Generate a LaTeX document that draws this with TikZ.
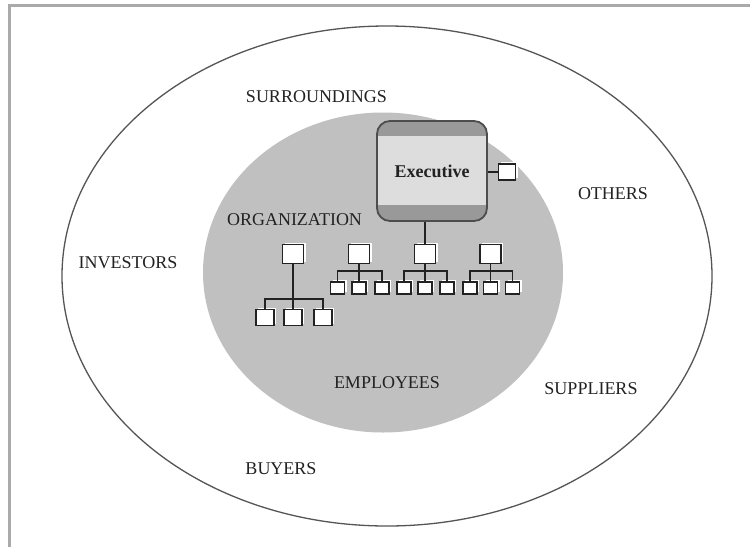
\documentclass[tikz,border=0pt]{standalone}
\usepackage{fontspec}
\setmainfont{Liberation Serif}
\usetikzlibrary{shadows}
\definecolor{framec}{HTML}{AAAAAA}
\definecolor{ringc}{HTML}{555555}
\definecolor{orgc}{HTML}{C0C0C0}
\definecolor{bandc}{HTML}{999999}
\definecolor{midc}{HTML}{DDDDDD}
\definecolor{execline}{HTML}{4D4D4D}
\definecolor{inkc}{HTML}{222222}
\tikzset{
  lab/.style={font=\fontsize{18}{20}\selectfont, text=inkc, inner sep=0pt},
  obox/.style={draw=inkc, fill=white, line width=1.8pt, inner sep=0pt,
    general shadow={fill=white, shadow xshift=2pt, shadow yshift=2pt}},
  bigbox/.style={obox, minimum width=21pt, minimum height=19pt},
  midbox/.style={obox, minimum width=18pt, minimum height=16pt},
  smallbox/.style={obox, minimum width=14pt, minimum height=12pt},
  link/.style={draw=inkc, line width=1.8pt},
}
\begin{document}
\begin{tikzpicture}[x=1pt,y=-1pt]
\useasboundingbox (0,0) rectangle (750,547);
\fill[white] (0,0) rectangle (750,547);
% frame
\draw[framec, line width=3pt] (9,547) -- (9,5) -- (750,5);
% surroundings ellipse
\draw[ringc, line width=1.3pt] (387,276) ellipse [x radius=325pt, y radius=250pt];
% organization ellipse
\fill[orgc] (383,272.5) ellipse [x radius=180pt, y radius=160pt];
% labels
\node[lab] (surr) at (316.5,97) {SURROUNDINGS};
\node[lab] (org) at (294.5,220) {ORGANIZATION};
\node[lab] (inv) at (128,263) {INVESTORS};
\node[lab] (oth) at (613,194) {OTHERS};
\node[lab] (sup) at (591,389) {SUPPLIERS};
\node[lab] (emp) at (387,383) {EMPLOYEES};
\node[lab] (buy) at (281,469) {BUYERS};
% executive box
\begin{scope}
\clip[rounded corners=13pt] (377,121) rectangle (487,221);
\fill[bandc] (377,121) rectangle (487,136);
\fill[midc] (377,136) rectangle (487,205);
\fill[bandc] (377,205) rectangle (487,221);
\end{scope}
\node[draw=execline, line width=1.8pt, rounded corners=13pt,
  minimum width=110pt, minimum height=100pt, inner sep=0pt,
  font=\bfseries\fontsize{18}{20}\selectfont, text=inkc] (exec) at (432,171) {Executive};
\node[midbox, minimum width=17pt] (side) at (507,172) {};
% top boxes
\node[bigbox] (g1) at (293,254) {};
\node[bigbox] (g2) at (359,254) {};
\node[bigbox] (g3) at (425,254) {};
\node[bigbox] (g4) at (490.5,254) {};
% group 1 children
\node[midbox] (c11) at (265,317.5) {};
\node[midbox] (c12) at (293,317.5) {};
\node[midbox] (c13) at (323,317.5) {};
% group 2 children
\node[smallbox] (c21) at (337.5,288) {};
\node[smallbox] (c22) at (359,288) {};
\node[smallbox] (c23) at (382,288) {};
% group 3 children
\node[smallbox] (c31) at (404,288) {};
\node[smallbox] (c32) at (425,288) {};
\node[smallbox] (c33) at (447,288) {};
% group 4 children
\node[smallbox] (c41) at (470,288) {};
\node[smallbox] (c42) at (490.5,288) {};
\node[smallbox] (c43) at (512.5,288) {};
% bars
\coordinate (b1) at (293,299);
\coordinate (b2) at (359,271);
\coordinate (b3) at (425,271);
\coordinate (b4) at (490.5,271);
% connectors
\draw[link] (g3.north) -- (g3.north |- exec.south);
\draw[link] (side.west) -- (side.west -| exec.east);
\draw[link] (g1.south) -- (c12.north);
\draw[link] (c11.north) |- (b1) -| (c13.north);
\draw[link] (g2.south) -- (c22.north);
\draw[link] (c21.north) |- (b2) -| (c23.north);
\draw[link] (g3.south) -- (c32.north);
\draw[link] (c31.north) |- (b3) -| (c33.north);
\draw[link] (g4.south) -- (c42.north);
\draw[link] (c41.north) |- (b4) -| (c43.north);
\end{tikzpicture}
\end{document}
